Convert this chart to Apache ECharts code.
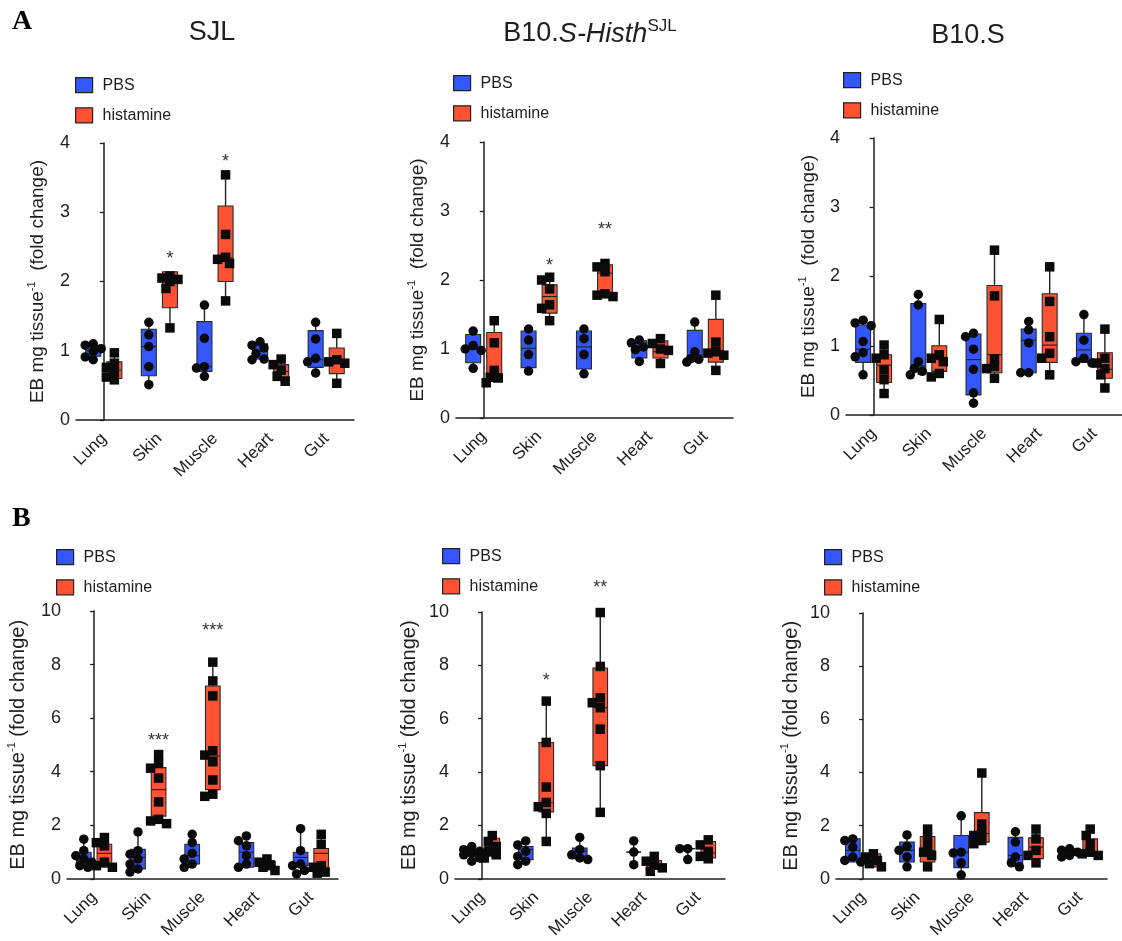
<!DOCTYPE html>
<html>
<head>
<meta charset="utf-8">
<script src="https://cdn.jsdelivr.net/npm/echarts@6/dist/echarts.min.js"></script>
<style>
  html, body { margin: 0; padding: 0; background: #fff; }
  #chart { width: 1122px; height: 941px; }
</style>
</head>
<body>
<div id="chart"></div>
<script>
// Evans blue extravasation, fold change vs. PBS, by organ
const organs = ['Lung', 'Skin', 'Muscle', 'Heart', 'Gut'];

// ---- A: SJL ----
const sjlPbs = [[1.10,1.08,1.03,0.99,0.91,0.87],[1.41,1.23,1.06,0.77,0.51],[1.66,1.18,0.77,0.75,0.63],[1.13,1.08,1.04,0.96,0.88,0.87],[1.41,1.17,0.89,0.84,0.68]];
const sjlPbsBox = [[0.92,1.00,1.08],[0.64,1.06,1.31],[0.70,0.77,1.42],[0.88,1.00,1.10],[0.76,0.87,1.29]];
const sjlHis = [[0.97,0.82,0.76,0.70,0.62,0.58],[2.08,2.05,2.03,2.00,1.90,1.33],[3.54,2.68,2.35,2.32,2.26,1.72],[0.88,0.80,0.72,0.63,0.56],[1.25,0.87,0.84,0.82,0.53]];
const sjlHisBox = [[0.60,0.72,0.84],[1.62,2.00,2.14],[2.00,2.34,3.09],[0.62,0.70,0.80],[0.67,0.84,1.04]];
const sjlStarText = ['', '*', '*', '', ''];
const sjlStarY = [null, 2.40, 3.80, null, null];

// ---- A: B10.S-Histh(SJL) ----
const hisPbs = [[1.26,1.05,1.00,0.98,0.72],[1.29,1.13,0.92,0.68],[1.29,1.15,0.92,0.64],[1.13,1.09,1.03,0.99,0.82],[1.39,0.96,0.86,0.85,0.81]];
const hisPbsBox = [[0.80,1.00,1.21],[0.73,1.01,1.26],[0.71,1.03,1.26],[0.87,1.04,1.12],[0.84,0.91,1.27]];
const hisHis = [[1.41,1.09,0.69,0.59,0.58,0.51],[2.04,2.00,1.87,1.64,1.59,1.41],[2.24,2.19,2.12,1.80,1.78,1.76],[1.15,1.08,1.00,0.98,0.79],[1.78,1.10,0.96,0.94,0.91,0.69]];
const hisHisBox = [[0.57,0.64,1.24],[1.52,1.76,1.93],[1.78,2.10,2.22],[0.87,0.96,1.12],[0.81,0.98,1.43]];
const hisStarText = ['', '*', '**', '', ''];
const hisStarY = [null, 2.28, 2.79, null, null];

// ---- A: B10.S ----
const b10Pbs = [[1.37,1.33,1.29,1.06,0.90,0.84,0.58],[1.74,1.59,0.77,0.67,0.63,0.58],[1.18,1.13,0.95,0.66,0.32,0.17],[1.35,1.23,1.04,0.61,0.61],[1.45,1.08,0.82,0.77,0.75]];
const b10PbsBox = [[0.76,0.95,1.30],[0.63,0.71,1.61],[0.29,0.80,1.17],[0.61,1.08,1.24],[0.76,0.94,1.18]];
const b10His = [[1.01,0.87,0.82,0.65,0.51,0.31],[1.38,0.87,0.82,0.77,0.60,0.55],[2.38,1.72,0.81,0.70,0.67,0.53],[2.14,1.64,1.13,0.89,0.82,0.58],[1.24,0.82,0.75,0.67,0.58,0.39]];
const b10HisBox = [[0.47,0.72,0.87],[0.63,0.80,1.00],[0.61,0.87,1.87],[0.76,1.01,1.75],[0.53,0.66,0.90]];

// ---- B: SJL ----
const bSjlPbs = [[1.48,1.05,0.86,0.74,0.62,0.49,0.43],[1.75,1.05,0.92,0.74,0.55,0.37,0.25],[1.66,1.35,0.95,0.74,0.55,0.43],[1.60,1.42,1.23,0.86,0.55,0.43],[1.87,1.05,0.55,0.49,0.31,0.18]];
const bSjlPbsBox = [[0.45,0.68,0.99],[0.37,0.80,1.10],[0.55,0.86,1.29],[0.43,0.99,1.35],[0.49,0.80,0.99]];
const bSjlHis = [[1.54,1.35,1.23,0.62,0.49,0.43],[4.64,4.31,4.13,3.76,2.87,2.22,2.16,2.06],[8.09,7.39,6.83,4.78,4.62,4.37,3.69,3.16,3.08],[0.74,0.62,0.49,0.43,0.31],[1.66,1.29,0.49,0.43,0.25,0.21]];
const bSjlHisBox = [[0.43,0.95,1.29],[2.34,3.33,4.15],[3.33,4.58,7.20],[0.37,0.50,0.68],[0.43,0.95,1.13]];
const bSjlStarText = ['', '***', '***', '', ''];
const bSjlStarY = [null, 5.33, 9.45, null, null];

// ---- B: B10.S-Histh(SJL) ----
const bHisPbs = [[1.21,1.09,1.03,0.97,0.90,0.78,0.66],[1.42,1.27,1.03,0.84,0.66,0.53],[1.55,1.09,0.90,0.78,0.72],[1.42,1.00,0.53],[1.13,1.13,0.72]];
const bHisPbsBox = [[0.85,0.98,1.10],[0.72,1.09,1.21],[0.75,1.03,1.15],[1.00,1.00,1.00],[1.13,1.13,1.13]];
const bHisHis = [[1.62,1.40,1.21,1.03,0.90,0.78],[6.66,5.11,3.44,2.86,2.70,2.45,1.40],[9.98,7.96,6.78,6.60,6.41,5.61,4.24,2.49],[0.84,0.66,0.53,0.41,0.28],[1.46,1.27,1.03,0.84,0.75]];
const bHisHisBox = [[0.85,1.20,1.52],[2.51,2.85,5.11],[4.24,6.41,7.90],[0.35,0.55,0.68],[0.78,0.97,1.40]];
const bHisStarText = ['', '*', '**', '', ''];
const bHisStarY = [null, 7.59, 11.1, null, null];

// ---- B: B10.S ----
const bB10Pbs = [[1.50,1.44,1.19,0.82,0.69,0.63],[1.65,1.22,1.07,0.82,0.45],[2.37,1.00,0.97,0.60,0.14],[1.77,1.38,0.82,0.60,0.45],[1.13,1.07,1.00,0.88,0.82]];
const bB10PbsBox = [[0.63,1.07,1.50],[0.63,1.07,1.38],[0.42,1.00,1.63],[0.57,0.88,1.56],[0.88,1.00,1.13]];
const bB10His = [[0.94,0.82,0.69,0.57,0.45],[1.87,1.56,1.22,1.00,0.88,0.45],[3.98,2.06,1.75,1.63,1.44,1.32],[1.87,1.50,1.07,0.88,0.60],[1.87,1.63,1.32,1.00,0.94,0.88]];
const bB10HisBox = [[0.45,0.75,0.94],[0.63,1.07,1.59],[1.38,1.70,2.49],[0.76,1.19,1.54],[0.88,1.00,1.50]];

const yTicksA = { max: 4, interval: 1 };
const yTicksB = { max: 10, interval: 2 };

// ---------------------------------------------------------------
const FONT = '"Liberation Sans", Arial, Helvetica, sans-serif';
const INK = '#1e1e1e';
const BLUE = '#3356ff';
const RED = '#ff5233';
const BOX_W = 0.27;      // box width, in category units
const GROUP_OFF = 0.19;  // PBS left / histamine right of category centre
const DOT = 9.5;         // marker size, px

const panels = [
  { pbs: sjlPbs, pbsBox: sjlPbsBox, his: sjlHis, hisBox: sjlHisBox, starText: sjlStarText, starY: sjlStarY, y: yTicksA },
  { pbs: hisPbs, pbsBox: hisPbsBox, his: hisHis, hisBox: hisHisBox, starText: hisStarText, starY: hisStarY, y: yTicksA },
  { pbs: b10Pbs, pbsBox: b10PbsBox, his: b10His, hisBox: b10HisBox, starText: null, starY: null, y: yTicksA },
  { pbs: bSjlPbs, pbsBox: bSjlPbsBox, his: bSjlHis, hisBox: bSjlHisBox, starText: bSjlStarText, starY: bSjlStarY, y: yTicksB },
  { pbs: bHisPbs, pbsBox: bHisPbsBox, his: bHisHis, hisBox: bHisHisBox, starText: bHisStarText, starY: bHisStarY, y: yTicksB },
  { pbs: bB10Pbs, pbsBox: bB10PbsBox, his: bB10His, hisBox: bB10HisBox, starText: null, starY: null, y: yTicksB }
];

// plot frames
const frames = [
  { left: 76,  top: 143, width: 278, height: 277, legend: [75, 77],  nameGap: 26, nameSize: 19, nameSpace: '  ' },
  { left: 456, top: 142, width: 277, height: 276, legend: [453, 75], nameGap: 26, nameSize: 19, nameSpace: '  ' },
  { left: 846, top: 138, width: 276, height: 277, legend: [843, 72], nameGap: 25, nameSize: 19, nameSpace: '  ' },
  { left: 67,  top: 611, width: 271, height: 271, legend: [56, 549], nameGap: 37, nameSize: 20, nameSpace: ' ' },
  { left: 455, top: 612, width: 270, height: 269, legend: [442, 548], nameGap: 34, nameSize: 20, nameSpace: ' ' },
  { left: 836, top: 613, width: 271, height: 269, legend: [824, 549], nameGap: 33, nameSize: 20, nameSpace: ' ' }
];

// spread overlapping markers a little sideways (pixel offsets); some overlap is allowed
function swarm(values, pxPerUnit) {
  const placed = [];
  const steps = [0, -1, 1, -2, 2];
  const STEP = 4, MIN_GAP = 7;
  return values.map(v => {
    const y = v * pxPerUnit;
    let best = 0, bestGap = -1;
    for (const k of steps) {
      const x = k * STEP;
      const gap = placed.reduce((m, p) => Math.min(m, Math.hypot(p.x - x, p.y - y)), Infinity);
      if (gap >= MIN_GAP) { best = x; bestGap = gap; break; }
      if (gap > bestGap) { best = x; bestGap = gap; }
    }
    placed.push({ x: best, y });
    return best;
  });
}

function renderBox(params, api) {
  const x = api.value(0);
  const lo = api.coord([x, api.value(1)]);
  const q1 = api.coord([x, api.value(2)]);
  const md = api.coord([x, api.value(3)]);
  const q3 = api.coord([x, api.value(4)]);
  const hi = api.coord([x, api.value(5)]);
  const half = api.size([BOX_W, 0])[0] / 2;
  const cx = md[0];
  return {
    type: 'group',
    children: [
      { type: 'line', shape: { x1: cx, y1: hi[1], x2: cx, y2: lo[1] }, style: { stroke: '#222', lineWidth: 1.4 } },
      { type: 'rect', shape: { x: cx - half, y: q3[1], width: half * 2, height: Math.max(q1[1] - q3[1], 0) },
        style: { fill: api.visual('color'), stroke: '#2a2a2a', lineWidth: 1.1 } },
      { type: 'line', shape: { x1: cx - half, y1: md[1], x2: cx + half, y2: md[1] }, style: { stroke: '#222', lineWidth: 1.1 } }
    ]
  };
}

const option = {
  animation: false,
  backgroundColor: '#fff',
  textStyle: { fontFamily: FONT },
  grid: [], xAxis: [], yAxis: [], series: [], legend: [],
  graphic: []
};

// axis index of the hidden value x-axis that carries the marks of panel k
const markAxis = k => 2 * k + 1;

panels.forEach((p, k) => {
  const f = frames[k];
  option.grid.push({ left: f.left, top: f.top, width: f.width, height: f.height, containLabel: false });

  // visible category axis (index 2k)
  option.xAxis.push({
    type: 'category', gridIndex: k, data: organs, boundaryGap: true,
    axisLine: { lineStyle: { color: INK, width: 1.5 } },
    axisTick: { alignWithLabel: true, length: 5, lineStyle: { color: INK, width: 1.3 } },
    axisLabel: { rotate: 45, fontSize: 17, color: INK, margin: 16, fontFamily: FONT, interval: 0 },
    splitLine: { show: false }
  });
  // hidden value axis for the marks (index 2k+1)
  option.xAxis.push({ type: 'value', gridIndex: k, min: -0.5, max: 4.5, show: false });

  option.yAxis.push({
    type: 'value', gridIndex: k, min: 0, max: p.y.max, interval: p.y.interval,
    axisLine: { show: true, lineStyle: { color: INK, width: 1.5 } },
    axisTick: { show: true, length: 4, lineStyle: { color: INK, width: 1.3 } },
    axisLabel: { fontSize: 18, color: INK, margin: 6, fontFamily: FONT },
    splitLine: { show: false },
    name: '{t|EB mg tissue}{s|-1}{t|' + f.nameSpace + '(fold change)}',
    nameLocation: 'middle', nameGap: f.nameGap, nameRotate: 90,
    nameTextStyle: {
      color: INK, fontFamily: FONT, fontSize: f.nameSize,
      rich: {
        t: { fontSize: f.nameSize, color: INK, fontFamily: FONT, lineHeight: 24 },
        s: { fontSize: 11, color: INK, fontFamily: FONT, verticalAlign: 'top', lineHeight: 24 }
      }
    }
  });
});

panels.forEach((p, k) => {
  const f = frames[k];
  const xIdx = markAxis(k);
  const bandPx = f.width / organs.length;
  const pxPerUnit = f.height / p.y.max;

  const groups = [
    { name: 'PBS', color: BLUE, pts: p.pbs, box: p.pbsBox, off: -GROUP_OFF, symbol: 'circle' },
    { name: 'histamine', color: RED, pts: p.his, box: p.hisBox, off: GROUP_OFF, symbol: 'rect' }
  ];

  groups.forEach(g => {
    option.series.push({
      type: 'custom', name: g.name, coordinateSystem: 'cartesian2d',
      xAxisIndex: xIdx, yAxisIndex: k,
      itemStyle: { color: g.color },
      encode: { x: 0, y: [1, 2, 3, 4, 5] },
      renderItem: renderBox, z: 2,
      data: g.pts.map((vals, i) => [i + g.off, Math.min(...vals), g.box[i][0], g.box[i][1], g.box[i][2], Math.max(...vals)])
    });
  });

  groups.forEach(g => {
    const data = [];
    g.pts.forEach((vals, i) => {
      const dx = swarm(vals, pxPerUnit);
      vals.forEach((v, j) => data.push([i + g.off + dx[j] / bandPx, v]));
    });
    option.series.push({
      type: 'scatter', name: g.name + ' values', xAxisIndex: xIdx, yAxisIndex: k,
      symbol: g.symbol, symbolSize: DOT, z: 5, clip: false,
      itemStyle: { color: '#0a0a0a', opacity: 1 },
      data
    });
  });

  if (p.starText) {
    const txt = p.starText;
    option.series.push({
      type: 'custom', name: 'significance', coordinateSystem: 'cartesian2d',
      xAxisIndex: xIdx, yAxisIndex: k, z: 6, clip: false,
      encode: { x: 0, y: 1 },
      data: p.starY.map((y, i) => [i + GROUP_OFF, y == null ? NaN : y, i]).filter(d => !isNaN(d[1])),
      renderItem: (params, api) => {
        const c = api.coord([api.value(0), api.value(1)]);
        return {
          type: 'text', x: c[0], y: c[1] + 5,
          style: { text: txt[api.value(2)], fill: '#333', font: '18px ' + FONT,
                   align: 'center', verticalAlign: 'middle', textAlign: 'center', textVerticalAlign: 'middle' }
        };
      }
    });
  }

  option.legend.push({
    left: f.legend[0], top: f.legend[1], orient: 'vertical', padding: 0,
    icon: 'rect', itemWidth: 17, itemHeight: 15, itemGap: 14,
    selectedMode: false,
    itemStyle: { borderColor: '#222', borderWidth: 1.2 },
    textStyle: { fontSize: 16, color: INK, fontFamily: FONT, padding: [0, 0, 0, 5] },
    data: ['PBS', 'histamine']
  });
});

// strain titles and panel letters
const titleStyle = (extra) => Object.assign({
  fill: INK, align: 'center', verticalAlign: 'middle', textAlign: 'center', textVerticalAlign: 'middle'
}, extra);
option.graphic = [
  { type: 'text', x: 12, y: 22, style: { text: 'A', fill: '#000', font: 'bold 28px "Liberation Serif", "Times New Roman", serif', verticalAlign: 'middle', textVerticalAlign: 'middle' } },
  { type: 'text', x: 12, y: 519, style: { text: 'B', fill: '#000', font: 'bold 28px "Liberation Serif", "Times New Roman", serif', verticalAlign: 'middle', textVerticalAlign: 'middle' } },
  { type: 'text', x: 212, y: 33, style: titleStyle({ text: 'SJL', font: '27px ' + FONT }) },
  { type: 'text', x: 590, y: 34, style: titleStyle({
      text: '{n|B10.}{i|S-Histh}{s|SJL}', font: '27px ' + FONT,
      rich: {
        n: { fontSize: 27, fontFamily: FONT, fill: INK, color: INK, lineHeight: 32 },
        i: { fontSize: 27, fontFamily: FONT, fontStyle: 'italic', fill: INK, color: INK, lineHeight: 32 },
        s: { fontSize: 17, fontFamily: FONT, fill: INK, color: INK, verticalAlign: 'top', lineHeight: 32 }
      }
    }) },
  { type: 'text', x: 968, y: 36, style: titleStyle({ text: 'B10.S', font: '27px ' + FONT }) }
];

const chart = echarts.init(document.getElementById('chart'), null, { renderer: 'canvas' });
chart.setOption(option);
</script>
</body>
</html>
